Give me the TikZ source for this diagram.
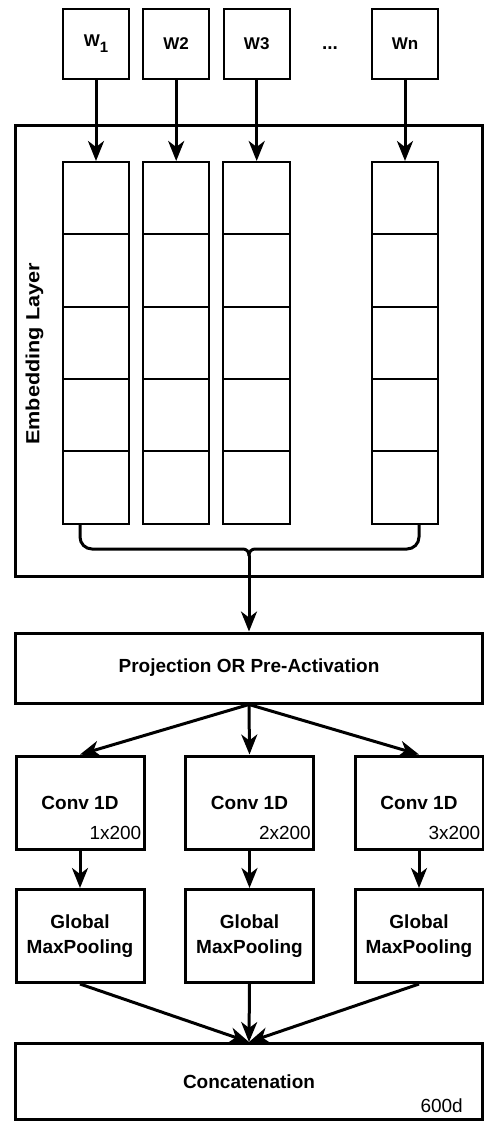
\documentclass[tikz,border=0pt]{standalone}
\usepackage{fontspec}
\setmainfont{Liberation Sans}
\usepackage{tikz}
\usetikzlibrary{arrows.meta,positioning,calc}
\tikzstyle{word} = [draw, line width=2pt, minimum width=66pt, minimum height=70pt, inner sep=0pt, font=\bfseries\fontsize{17}{19}\selectfont]
\tikzstyle{cell} = [draw, line width=2pt, minimum width=66.5pt, minimum height=72.3pt]
\tikzstyle{block} = [draw, line width=3pt, align=center, inner sep=0pt, font=\bfseries\fontsize{19}{25}\selectfont]
\tikzstyle{sub} = [inner sep=0pt, font=\fontsize{19}{22}\selectfont]
\tikzstyle{arrow} = [line width=3pt, -{Stealth[length=20pt,width=16pt,inset=6pt]}]
\tikzstyle{brace} = [line width=3pt]

\begin{document}
\begin{tikzpicture}[x=1pt,y=-1pt]
	\useasboundingbox (0,0) rectangle (484,1122);
	% embedding layer
	\node[block, minimum width=467pt, minimum height=450.5pt] (emb) at (249,350.75) {};
	\node[font=\bfseries\fontsize{19}{22}\selectfont, rotate=90, xscale=1.14] (emblabel) at (34.5,354) {Embedding Layer};
	% word inputs
	\node[word] (w1) at (96,43.5) {W\raisebox{-6pt}{\fontsize{15}{15}\selectfont 1}};
	\node[word] (w2) at (176.2,43.5) {W2};
	\node[word] (w3) at (256.7,43.5) {W3};
	\node[inner sep=0pt, font=\bfseries\fontsize{19}{19}\selectfont] (dots) at (330,48) {...};
	\node[word] (wn) at (405,43.5) {Wn};
	% embedding columns
	\foreach \c/\x in {1/96,2/176.2,3/256.7,n/405}{
		\foreach \r in {1,...,5}{
			\node[cell] (c\c-\r) at (\x,{162+72.3*(\r-0.5)}) {};
		}
		\draw[arrow] (w\c.south) -- (c\c-1.north);
	}
	% brace
	\coordinate (bl) at (80,523);
	\coordinate (br) at (419,523);
	\coordinate (bm) at (249,556);
	\draw[brace] (bl) [rounded corners=12pt] -- (80,549) [rounded corners=6pt] -- (249,549) -- (bm);
	\draw[brace] (br) [rounded corners=12pt] -- (419,549) [rounded corners=6pt] -- (249,549) -- (bm);
	% network
	\node[block, minimum width=467pt, minimum height=70pt] (proj) at (249,668) {Projection OR Pre-Activation};
	\draw[arrow] (bm) -- (proj.north);
	\foreach \i/\x in {1/80,2/249.5,3/419}{
		\node[block, minimum width=128pt, minimum height=93pt] (conv\i) at (\x,802.5) {Conv 1D};
		\node[sub, anchor=base east] (size\i) at ($(conv\i.south east)+(-4,-11)$) {\i x200};
		\node[block, minimum width=128pt, minimum height=93pt] (pool\i) at (\x,936) {Global\\MaxPooling};
		\draw[arrow] (proj.south) -- (conv\i.north);
		\draw[arrow] (conv\i.south) -- (pool\i.north);
	}
	\node[block, minimum width=467pt, minimum height=76pt] (concat) at (249,1081.5) {Concatenation};
	\node[sub, anchor=base east] (dim) at ($(concat.south east)+(-21,-9)$) {600d};
	\foreach \i in {1,2,3}{
		\draw[arrow] (pool\i.south) -- (concat.north);
	}
\end{tikzpicture}
\end{document}
